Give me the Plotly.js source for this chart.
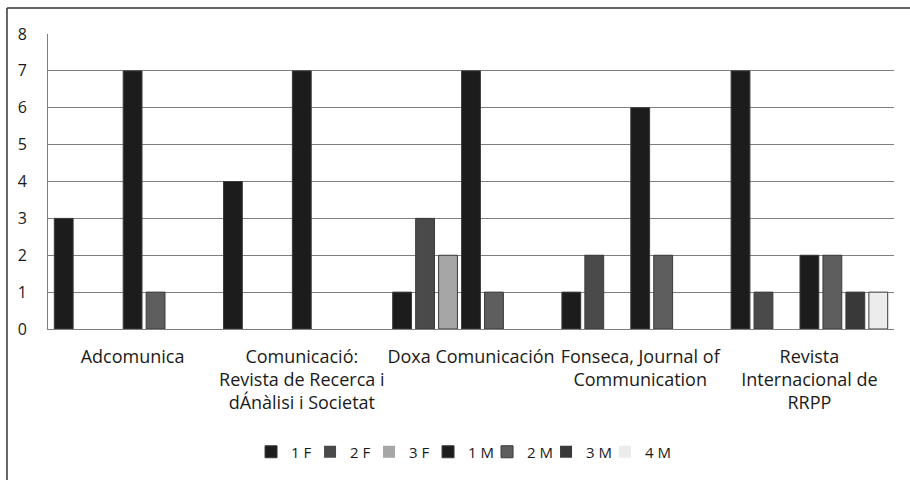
<!DOCTYPE html>
<html>
<head>
<meta charset="utf-8">
<script src="https://cdn.plot.ly/plotly-3.0.1.min.js"></script>
<style>html,body{margin:0;padding:0;background:#fff;}#chart{width:910px;height:480px;}</style>
</head>
<body>
<div id="chart"></div>
<script>
var categories = [
  "Adcomunica",
  "Comunicació:<br>Revista de Recerca i<br>dÁnàlisi i Societat",
  "Doxa Comunicación",
  "Fonseca, Journal of<br>Communication",
  "Revista<br>Internacional de<br>RRPP"
];
var seriesNames = ["1 F", "2 F", "3 F", "1 M", "2 M", "3 M", "4 M"];
var v1F = [3, 4, 1, 1, 7];
var v2F = [0, 0, 3, 2, 1];
var v3F = [0, 0, 2, 0, 0];
var v1M = [7, 7, 7, 6, 2];
var v2M = [1, 0, 1, 2, 2];
var v3M = [0, 0, 0, 0, 1];
var v4M = [0, 0, 0, 0, 1];
var seriesValues = [v1F, v2F, v3F, v1M, v2M, v3M, v4M];
var seriesColors = ["#1c1c1c", "#4a4a4a", "#a6a6a6", "#1c1c1c", "#5e5e5e", "#393939", "#ececec"];

var traces = seriesNames.map(function (name, i) {
  return {
    type: "bar",
    name: name,
    x: categories,
    y: seriesValues[i],
    marker: {
      color: seriesColors[i],
      line: { color: "#3a3a3a", width: seriesValues[i].map(function (v) { return v > 0 ? 1 : 0; }) }
    },
    hoverinfo: "x+y+name"
  };
});
// invisible spacer legend entry (scatter, so it does not take a bar slot) to avoid clipping the last label
traces.push({
  type: "scatter", mode: "markers", name: "\u00a0", x: [null], y: [null],
  marker: { color: "rgba(0,0,0,0)", size: 1 },
  hoverinfo: "skip"
});

var fontFam = "Open Sans, sans-serif";
var layout = {
  width: 910,
  height: 480,
  margin: { l: 48, r: 16, t: 34, b: 151, pad: 0 },
  paper_bgcolor: "#ffffff",
  plot_bgcolor: "#ffffff",
  barmode: "group",
  bargap: 0.05,
  bargroupgap: 0.18,
  font: { family: fontFam, color: "#1a1a1a" },
  showlegend: true,
  legend: {
    orientation: "h",
    x: 0.24, xanchor: "left",
    y: -0.417, yanchor: "middle",
    font: { size: 15, family: fontFam, color: "#1a1a1a" },
    itemwidth: 30,
    entrywidth: 14,
    traceorder: "normal"
  },
  xaxis: {
    type: "category",
    showline: true, linecolor: "#7f7f7f", linewidth: 1,
    showgrid: false, ticks: "",
    ticklabelstandoff: 11,
    tickfont: { size: 18, family: fontFam, color: "#1a1a1a" },
    tickangle: 0,
    fixedrange: true
  },
  yaxis: {
    range: [0, 8],
    dtick: 1,
    showline: true, linecolor: "#7f7f7f", linewidth: 1,
    showgrid: true, gridcolor: "#7f7f7f", gridwidth: 1,
    zeroline: false,
    ticks: "",
    ticklabelstandoff: 17,
    tickfont: { size: 16, family: fontFam, color: "#1a1a1a" },
    fixedrange: true
  },
  shapes: [
    { type: "line", xref: "paper", yref: "paper", x0: -0.0485, x1: -0.0485, y0: 1.088, y1: -0.52, line: { color: "#333333", width: 1.5 } },
    { type: "line", xref: "paper", yref: "paper", x0: -0.0485, x1: 1.03, y0: 1.088, y1: 1.088, line: { color: "#333333", width: 1.5 } }
  ]
};

Plotly.newPlot("chart", traces, layout, { displayModeBar: false, staticPlot: true });
</script>
</body>
</html>
